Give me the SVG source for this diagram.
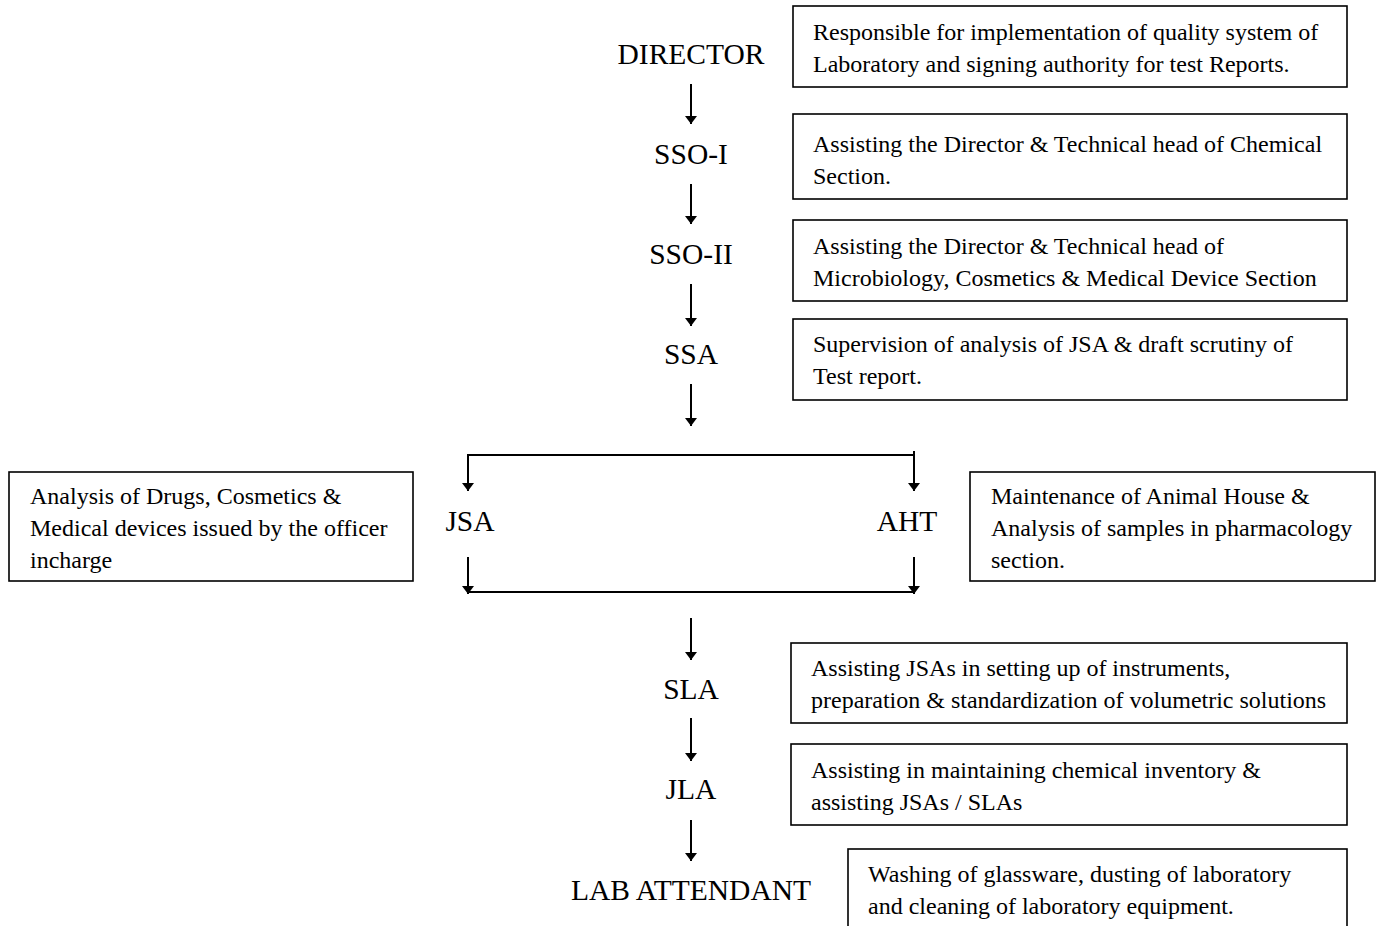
<svg xmlns="http://www.w3.org/2000/svg" width="1381" height="926" viewBox="0 0 1381 926">
<style>
.box{fill:#fff;stroke:#000;stroke-width:1.6}
.t{font-family:"Liberation Serif","Times New Roman",serif;font-size:24px;fill:#000}
.lb{font-family:"Liberation Serif","Times New Roman",serif;font-size:29.5px;fill:#000;text-anchor:middle}
.ln{stroke:#000;stroke-width:2;fill:none}
</style>
<defs>
<marker id="ah" viewBox="0 0 8 12" refX="8" refY="6" markerWidth="8" markerHeight="12" markerUnits="userSpaceOnUse" orient="auto">
<path d="M0,0 L8,6 L0,12 z" fill="#000"/>
</marker>
</defs>
<rect width="1381" height="926" fill="#fff"/>
<g id="director"><text class="lb" x="691" y="64">DIRECTOR</text></g>
<g id="sso1"><text class="lb" x="691" y="164">SSO-I</text></g>
<g id="sso2"><text class="lb" x="691" y="264">SSO-II</text></g>
<g id="ssa"><text class="lb" x="691" y="364">SSA</text></g>
<g id="jsa"><text class="lb" x="470" y="531">JSA</text></g>
<g id="aht"><text class="lb" x="907" y="531">AHT</text></g>
<g id="sla"><text class="lb" x="691" y="699">SLA</text></g>
<g id="jla"><text class="lb" x="691" y="799">JLA</text></g>
<g id="labattendant"><text class="lb" x="691" y="900">LAB ATTENDANT</text></g>

<g id="desc-director"><rect class="box" x="793" y="6" width="554" height="81"/>
<text class="t" x="813" y="40">Responsible for implementation of quality system of</text>
<text class="t" x="813" y="72">Laboratory and signing authority for test Reports.</text></g>
<g id="desc-sso1"><rect class="box" x="793" y="114" width="554" height="85"/>
<text class="t" x="813" y="152">Assisting the Director &amp; Technical head of Chemical</text>
<text class="t" x="813" y="184">Section.</text></g>
<g id="desc-sso2"><rect class="box" x="793" y="220" width="554" height="81"/>
<text class="t" x="813" y="254">Assisting the Director &amp; Technical head of</text>
<text class="t" x="813" y="286">Microbiology, Cosmetics &amp; Medical Device Section</text></g>
<g id="desc-ssa"><rect class="box" x="793" y="319" width="554" height="81"/>
<text class="t" x="813" y="352">Supervision of analysis of JSA &amp; draft scrutiny of</text>
<text class="t" x="813" y="384">Test report.</text></g>
<g id="desc-jsa"><rect class="box" x="9" y="472" width="404" height="109"/>
<text class="t" x="30" y="504">Analysis of Drugs, Cosmetics &amp;</text>
<text class="t" x="30" y="536">Medical devices issued by the officer</text>
<text class="t" x="30" y="568">incharge</text></g>
<g id="desc-aht"><rect class="box" x="970" y="472" width="405" height="109"/>
<text class="t" x="991" y="504">Maintenance of Animal House &amp;</text>
<text class="t" x="991" y="536">Analysis of samples in pharmacology</text>
<text class="t" x="991" y="568">section.</text></g>
<g id="desc-sla"><rect class="box" x="791" y="643" width="556" height="80"/>
<text class="t" x="811" y="676">Assisting JSAs in setting up of instruments,</text>
<text class="t" x="811" y="708">preparation &amp; standardization of volumetric solutions</text></g>
<g id="desc-jla"><rect class="box" x="791" y="744" width="556" height="81"/>
<text class="t" x="811" y="778">Assisting in maintaining chemical inventory &amp;</text>
<text class="t" x="811" y="810">assisting JSAs / SLAs</text></g>
<g id="desc-lab"><rect class="box" x="848" y="849" width="499" height="90"/>
<text class="t" x="868" y="882">Washing of glassware, dusting of laboratory</text>
<text class="t" x="868" y="914">and cleaning of laboratory equipment.</text></g>

<g id="connectors">
<line class="ln" x1="691" y1="84" x2="691" y2="124" marker-end="url(#ah)"/>
<line class="ln" x1="691" y1="184" x2="691" y2="224" marker-end="url(#ah)"/>
<line class="ln" x1="691" y1="284" x2="691" y2="326" marker-end="url(#ah)"/>
<line class="ln" x1="691" y1="384" x2="691" y2="426" marker-end="url(#ah)"/>
<line class="ln" x1="468" y1="455" x2="914" y2="455"/>
<line class="ln" x1="468" y1="454" x2="468" y2="491" marker-end="url(#ah)"/>
<line class="ln" x1="914" y1="451" x2="914" y2="491" marker-end="url(#ah)"/>
<line class="ln" x1="468" y1="557" x2="468" y2="594" marker-end="url(#ah)"/>
<line class="ln" x1="914" y1="557" x2="914" y2="594" marker-end="url(#ah)"/>
<line class="ln" x1="468" y1="592" x2="914" y2="592"/>
<line class="ln" x1="691" y1="618" x2="691" y2="660" marker-end="url(#ah)"/>
<line class="ln" x1="691" y1="718" x2="691" y2="761" marker-end="url(#ah)"/>
<line class="ln" x1="691" y1="820" x2="691" y2="861" marker-end="url(#ah)"/>
</g>
</svg>
